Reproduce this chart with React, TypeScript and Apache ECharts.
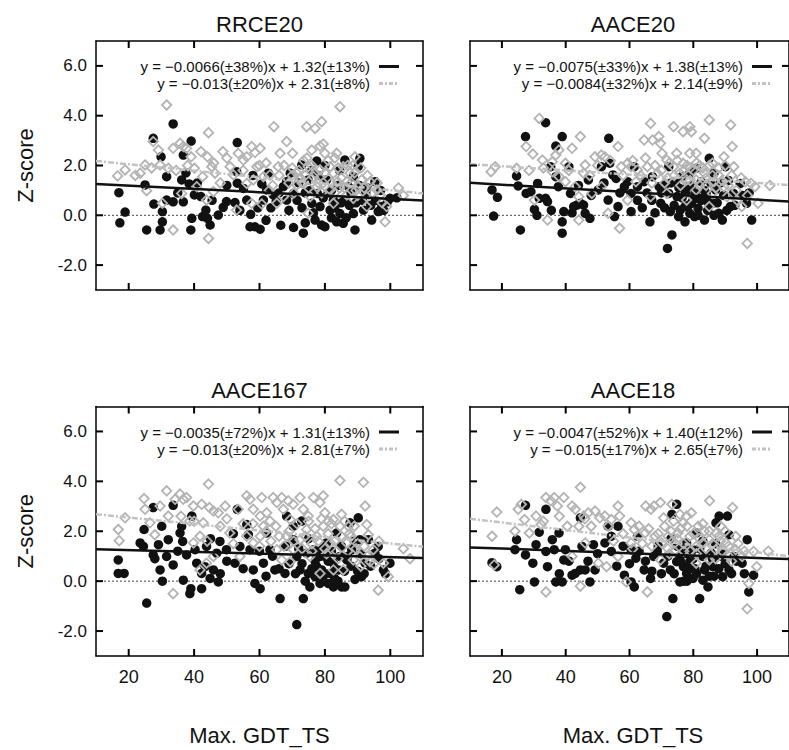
import React, { useEffect, useRef } from "react";
import * as echarts from "echarts";

const FONT = "'Liberation Sans', Arial, Helvetica, sans-serif";

const panelTitles = ["RRCE20", "AACE20", "AACE167", "AACE18"];
const xTicks = [20, 40, 60, 80, 100];
const yTicks = [-2, 0, 2, 4, 6];
const xAxisTitle = "Max. GDT_TS";
const yAxisTitle = "Z-score";

// fit lines: [black, gray]
const fitSlopes = [[-0.0066, -0.013], [-0.0075, -0.0084], [-0.0035, -0.013], [-0.0047, -0.015]];
const fitIntercepts = [[1.32, 2.31], [1.38, 2.14], [1.31, 2.81], [1.40, 2.65]];
const fitLabels = [
  ["y = −0.0066(±38%)x + 1.32(±13%)", "y = −0.013(±20%)x + 2.31(±8%)"],
  ["y = −0.0075(±33%)x + 1.38(±13%)", "y = −0.0084(±32%)x + 2.14(±9%)"],
  ["y = −0.0035(±72%)x + 1.31(±13%)", "y = −0.013(±20%)x + 2.81(±7%)"],
  ["y = −0.0047(±52%)x + 1.40(±12%)", "y = −0.015(±17%)x + 2.65(±7%)"],
];

const rrce20Black = [
  [17.0, 0.91], [17.3, -0.3], [18.9, 0.13], [25.5, -0.59], [27.5, 3.09], [29.9, 2.35], [29.6, -0.59], [30.3, -0.26],
  [30.3, 0.15], [27.7, 0.45], [25.0, 1.22], [31.6, 0.61], [31.6, 1.55], [33.6, 0.54], [33.6, 3.67], [36.2, 1.42],
  [36.7, 0.54], [36.7, 2.42], [39.1, 2.98], [38.5, 1.26], [39.0, -0.59], [39.3, -0.12], [40.1, 0.82], [42.1, 0.75],
  [42.6, -0.05], [43.6, 0.21], [44.1, -0.12], [44.9, -0.39], [47.4, 0.01], [48.9, 0.32], [49.9, 0.55], [53.2, 2.92],
  [53.0, 1.75], [52.5, 0.51], [53.2, 1.29], [55.1, 1.08], [56.1, 0.61], [57.1, -0.46], [58.6, -0.46], [60.2, -0.56],
  [57.3, 0.04], [61.2, 0.61], [60.7, 1.26], [62.2, 1.02], [62.7, 1.69], [64.2, 0.82], [67.3, 1.15], [68.3, 0.61],
  [70.4, -0.49], [72.9, 2.02], [73.4, -0.72], [74.9, 1.42], [76.0, 0.48], [77.0, -0.19], [77.5, 2.18], [77.7, 0.88],
  [79.0, -0.39], [80.0, -0.46], [80.5, 1.42], [81.6, 0.21], [82.6, 0.61], [83.6, -0.26], [84.6, 0.07], [85.6, -0.32],
  [86.1, 2.22], [87.2, 1.15], [88.7, 1.55], [89.2, -0.59], [90.2, 1.96], [90.7, 2.29], [91.8, 0.21], [94.3, -0.19],
  [95.3, 1.35], [96.3, 0.15], [97.4, 0.35], [99.9, 0.68], [99.1, 0.54], [88.7, 0.07], [78.5, 0.35], [69.4, 1.69],
  [65.1, 0.55], [68.3, 1.35], [70.4, 0.88], [102.0, 0.7], [74.0, 0.9], [82.0, 1.0], [86.0, 0.6], [92.5, 0.9],
  [63.5, 0.3], [66.0, 0.9], [69.0, 0.2], [71.5, 0.6], [72.0, 1.3], [73.0, 0.3], [75.5, 1.0], [76.5, 0.1],
  [78.0, 1.6], [79.5, 0.7], [81.0, 0.9], [82.0, -0.1], [83.0, 0.3], [84.0, 1.2], [85.0, 0.5], [86.5, -0.1],
  [87.5, 0.4], [88.0, 0.9], [89.5, 0.5], [90.5, 1.2], [91.5, 0.6], [93.0, 1.1], [94.0, 0.4], [95.5, 0.6],
  [97.0, 1.0], [98.0, 0.2], [35.0, 0.9], [37.5, 1.7], [41.0, 1.3], [45.5, 0.6], [50.0, 1.2], [54.0, 0.2],
  [58.0, 1.6], [59.5, 0.3], [62.0, -0.2], [66.5, -0.4], [74.0, -0.3], [80.0, 2.0], [84.5, 1.8], [76.0, 1.8],
];

const rrce20Gray = [
  [16.6, 1.58], [18.9, 1.82], [23.5, 1.69], [25.0, 2.02], [27.5, 2.96], [25.5, 0.99], [29.1, 2.62], [29.6, 2.02],
  [31.6, 4.43], [30.3, 0.48], [32.1, 1.89], [33.6, -0.59], [33.6, 2.69], [35.7, 2.89], [36.7, 2.76], [37.7, 2.69],
  [36.2, 0.88], [39.1, 2.35], [40.1, 1.89], [42.1, 2.56], [42.6, 1.55], [44.4, 3.32], [44.1, 2.35], [44.4, -0.93],
  [45.4, 1.95], [46.4, 1.69], [48.8, 2.56], [51.0, 1.95], [52.0, 1.62], [53.5, 2.49], [55.1, 2.22], [56.1, 2.35],
  [57.6, 2.76], [58.6, 2.52], [60.2, 2.69], [59.2, 1.95], [60.7, 0.45], [63.2, 1.62], [64.4, 3.56], [65.7, 1.95],
  [66.3, 2.49], [68.3, 2.96], [70.1, 2.49], [71.4, 1.69], [74.4, 3.56], [74.9, 1.95], [76.0, 2.62], [77.0, 3.49],
  [78.5, 2.78], [79.0, 3.76], [79.5, 2.86], [80.0, 2.49], [81.6, 1.95], [84.6, 4.36], [83.6, 2.49], [85.6, 1.95],
  [86.7, 1.35], [87.7, 1.69], [89.2, 2.35], [90.2, 1.15], [91.2, 1.42], [92.8, 0.75], [93.8, 1.35], [95.9, 1.02],
  [98.4, -0.26], [98.9, 0.35], [86.7, 0.82], [81.6, 1.02], [77.5, 1.15], [71.4, 1.22], [67.3, 0.75], [65.3, 0.48],
  [61.2, 1.55], [58.1, 1.42], [56.1, 1.28], [57.6, 0.48], [53.0, 0.21], [45.9, 0.95], [43.8, 0.61], [40.8, 1.15],
  [82.6, 1.69], [78.5, 1.82], [76.5, 1.55], [83.9, 1.35], [88.7, 0.68], [96.9, 0.82], [75.5, 0.75], [82.6, 0.48],
  [92.8, 0.35], [74.9, 0.08], [72.5, 1.5], [79.5, 1.3], [84.5, 1.1], [89.5, 1.0], [70.0, 1.9], [73.5, 2.2],
  [102.5, 1.1], [104.0, 0.8], [62.0, 2.1], [64.0, 1.2], [66.0, 1.6], [67.5, 2.0], [69.0, 1.3], [70.5, 0.9],
  [72.0, 1.8], [73.0, 1.3], [74.0, 1.6], [75.0, 1.1], [76.0, 2.0], [77.0, 1.7], [78.0, 1.3], [79.0, 0.9],
  [80.0, 1.7], [81.0, 2.2], [82.0, 1.3], [83.0, 0.9], [84.0, 1.9], [85.0, 1.5], [86.0, 1.1], [87.0, 2.0],
  [88.0, 1.3], [89.0, 1.7], [90.0, 0.8], [91.0, 1.9], [92.0, 1.1], [93.0, 1.6], [94.5, 0.9], [96.0, 1.3],
  [97.5, 0.5], [50.0, 2.3], [48.0, 1.3], [46.0, 2.1], [38.0, 2.0], [34.5, 1.8], [27.0, 1.9], [22.0, 1.6],
  [55.0, 1.8], [60.0, 2.0], [63.0, 1.0], [70.0, 1.6], [74.5, 2.3], [83.0, 2.3], [88.5, 2.0],
];

const aace20Black = [
  [16.9, 1.02], [18.6, 0.72], [17.4, -0.03], [24.6, 1.58], [25.1, 1.18], [25.8, -0.59], [27.4, 3.16], [27.6, 0.88],
  [29.1, 0.95], [30.2, 0.24], [31.2, 1.28], [31.7, 0.68], [33.7, 3.72], [33.7, 0.68], [34.3, 0.55], [35.3, 1.95],
  [36.9, 2.78], [36.9, 1.55], [37.7, 1.15], [38.9, 3.16], [38.9, -0.26], [38.9, -0.72], [39.4, 0.15], [41.0, 1.95],
  [41.5, 0.88], [42.5, 0.35], [43.5, 0.41], [44.6, 0.48], [45.6, 0.41], [46.1, 0.08], [47.6, -0.12], [47.1, 1.42],
  [50.2, 1.02], [51.2, 1.95], [53.3, 0.61], [53.5, 3.09], [53.8, 2.09], [54.8, 1.62], [55.8, 1.48], [56.4, 0.35],
  [58.4, 1.15], [59.4, 1.35], [60.5, 0.15], [61.5, 1.95], [62.5, 1.15], [64.6, 1.35], [66.4, -0.26], [67.2, 1.55],
  [69.3, 1.15], [69.8, 0.48], [71.1, 1.22], [72.3, 1.95], [72.8, 0.15], [73.3, -0.79], [71.9, -1.33], [74.9, 0.75],
  [75.9, 0.21], [76.4, 1.55], [77.4, 0.35], [78.2, 1.15], [78.9, 0.08], [79.9, 0.61], [80.4, -0.05], [81.5, 0.28],
  [82.5, 1.35], [83.5, -0.19], [84.5, 0.55], [85.0, 2.29], [86.0, 0.48], [87.0, 1.02], [88.0, 0.08], [89.1, -0.19],
  [90.1, 1.95], [91.6, 0.35], [92.6, 0.88], [94.7, 1.28], [96.7, 0.48], [98.3, -0.19], [75.4, -0.05], [77.4, -0.26],
  [79.4, 0.48], [81.9, 0.68], [84.0, 0.88], [72.3, 0.88], [74.4, 1.35], [78.9, 1.69], [80.9, 1.89], [86.5, 1.69],
  [60.5, 0.88], [55.3, -0.05], [62.5, 0.6], [64.0, 0.3], [65.5, 0.9], [67.0, 0.6], [68.0, 0.1], [70.0, 0.9],
  [71.0, 0.3], [73.0, 1.3], [74.0, 0.4], [75.5, 1.1], [76.5, 0.7], [77.5, 0.9], [78.5, 0.4], [79.5, 1.2],
  [80.5, 0.9], [81.5, 0.0], [82.5, 0.6], [83.5, 1.0], [84.5, 0.2], [85.5, 1.3], [86.5, 0.0], [87.5, 0.5],
  [88.5, 1.3], [89.5, 0.8], [90.5, 0.2], [91.0, 1.4], [93.0, 0.4], [95.5, 0.8], [97.5, 0.9], [44.0, 1.2],
  [48.0, 0.8], [52.0, 1.3], [57.0, 0.9], [42.0, 0.1], [35.5, 0.2], [31.0, 0.0],
];

const aace20Gray = [
  [16.6, 1.75], [17.9, 1.95], [24.6, 1.89], [27.6, 2.76], [29.7, 2.46], [30.2, 0.61], [31.7, 3.89], [32.7, 2.22],
  [34.3, -0.19], [35.8, 2.15], [36.9, 2.42], [37.9, 2.62], [39.9, 2.09], [39.9, 1.35], [42.0, 2.69], [44.1, -0.19],
  [44.6, 3.16], [45.6, 1.69], [46.1, 2.02], [49.2, 2.35], [51.2, 2.42], [52.3, 2.35], [53.3, 0.08], [56.4, 2.76],
  [57.4, 1.95], [56.9, -0.52], [59.4, 2.09], [60.5, 1.95], [62.0, 1.35], [64.6, 3.02], [66.6, 3.69], [67.2, 3.02],
  [69.2, 3.16], [69.7, 2.89], [70.2, 2.49], [71.7, 2.22], [73.8, 3.56], [74.8, 2.49], [76.8, 3.36], [78.9, 3.56],
  [79.4, 3.36], [78.9, 2.49], [80.9, 2.49], [83.5, 3.09], [85.0, 3.83], [86.0, 2.09], [89.6, 2.35], [91.7, 3.63],
  [92.2, 2.76], [92.7, 1.95], [96.3, 1.35], [96.9, -1.13], [98.1, 1.28], [100.3, 0.48], [73.8, 1.95], [75.8, 1.69],
  [77.9, 1.42], [80.9, 1.42], [83.5, 1.69], [86.5, 1.35], [89.6, 1.15], [90.6, 0.75], [93.7, 0.61], [95.2, 0.35],
  [68.7, 1.69], [66.6, 0.75], [65.6, 1.95], [62.5, 1.82], [59.4, 0.61], [51.2, 1.15], [48.2, 0.88], [43.0, 1.15],
  [44.1, 0.75], [37.9, 1.55], [35.8, 1.75], [80.9, 1.02], [86.0, 0.88], [77.9, 0.61], [71.7, 0.88], [99.3, 1.15],
  [85.0, 0.35], [76.8, 2.09], [82.0, 2.0], [84.0, 1.2], [88.0, 1.6], [72.0, 1.5], [79.0, 1.9], [104.0, 1.2],
  [61.0, 2.2], [63.5, 1.6], [65.0, 2.3], [67.0, 1.3], [68.0, 2.0], [70.0, 1.8], [71.0, 1.3], [72.5, 2.1],
  [74.0, 1.6], [75.0, 2.2], [76.0, 1.2], [77.0, 1.8], [78.0, 2.0], [79.0, 1.4], [80.0, 1.8], [81.0, 2.1],
  [82.0, 1.2], [83.0, 1.9], [84.0, 1.5], [85.0, 2.0], [86.0, 1.6], [87.0, 1.1], [88.0, 1.9], [89.0, 1.4],
  [90.0, 2.0], [91.0, 1.2], [92.0, 1.6], [93.5, 1.0], [95.0, 1.5], [97.0, 0.8], [50.0, 2.0], [47.5, 1.6],
  [54.0, 2.2], [58.0, 1.6], [41.0, 1.8], [33.0, 1.9], [28.5, 1.8],
];

const aace167Black = [
  [16.8, 0.85], [16.8, 0.31], [18.6, 0.31], [25.5, -0.88], [23.5, 1.53], [24.5, 1.39], [24.7, 2.07], [27.5, 2.95],
  [27.5, 1.05], [29.1, 1.46], [29.6, 0.45], [30.1, 2.2], [30.3, 0.0], [31.6, 0.99], [32.1, 1.66], [33.6, 3.04],
  [33.6, 0.65], [35.7, 1.93], [36.2, 2.2], [36.5, 1.59], [36.7, 0.04], [37.7, 1.05], [38.7, -0.5], [39.0, -0.3],
  [39.3, 2.61], [40.3, 1.26], [40.8, 0.72], [42.3, 0.31], [42.3, -0.3], [43.3, 0.58], [43.8, 1.39], [44.9, 0.11],
  [45.9, 0.45], [46.9, 1.12], [47.4, -0.03], [47.9, 1.59], [49.9, 1.26], [52.5, 0.72], [53.2, 2.88], [54.0, 1.39],
  [56.1, 2.27], [56.6, 1.86], [57.1, 1.26], [58.1, 0.45], [58.6, -0.09], [60.2, -0.3], [61.2, 0.72], [62.2, 1.93],
  [63.2, 1.26], [64.7, 0.45], [66.3, -0.7], [68.3, 2.61], [67.8, 0.31], [70.3, 2.2], [71.4, -1.74], [71.4, 0.99],
  [72.9, 2.41], [73.4, -0.7], [74.4, 1.12], [75.4, -0.23], [77.0, 0.18], [77.5, 0.58], [78.5, -0.09], [79.0, 0.45],
  [80.0, 0.99], [81.0, -0.09], [81.6, 0.31], [82.6, -0.23], [83.6, 1.93], [84.1, 0.45], [85.1, -0.23], [86.1, -0.23],
  [86.7, 0.85], [87.7, 2.34], [88.2, 1.26], [89.2, 0.07], [90.2, 2.54], [90.7, 1.66], [92.3, 0.72], [93.3, 1.66],
  [95.3, 1.12], [96.3, 1.39], [97.9, 0.45], [99.9, 0.72], [80.5, 1.53], [76.5, 1.26], [78.5, 0.99], [82.6, 0.72],
  [84.6, 0.99], [72.4, 0.45], [74.9, 0.31], [70.3, 1.66], [91.2, 0.18], [79.5, 0.2], [83.0, 0.1], [77.0, 0.8],
  [60.0, 1.2], [62.0, 0.2], [64.0, 1.0], [66.0, 0.5], [68.0, 1.4], [69.0, 0.7], [71.0, 0.3], [72.0, 1.3],
  [73.0, 0.7], [74.0, 0.0], [75.0, 1.7], [76.0, 0.5], [77.5, 1.0], [78.0, 0.2], [79.0, 1.3], [80.0, 0.3],
  [81.0, 0.8], [82.0, 1.2], [83.0, 0.5], [84.0, 0.0], [85.0, 1.4], [86.0, 0.4], [87.0, 1.0], [88.0, 0.6],
  [89.0, 1.6], [90.0, 0.4], [91.0, 1.1], [92.0, 0.3], [94.0, 0.6], [96.5, 0.9], [98.5, 0.3], [45.0, 1.7],
  [50.0, 0.8], [55.0, 0.5], [52.0, 1.9], [48.0, 0.3], [35.0, 1.2], [28.0, 0.9],
];

const aace167Gray = [
  [16.8, 2.07], [17.1, 1.62], [18.9, 2.54], [24.7, 3.31], [25.0, 2.88], [26.5, 2.34], [28.0, 1.86], [29.6, 3.01],
  [31.6, 3.62], [32.1, 2.61], [33.6, -0.5], [34.2, 3.28], [35.7, 3.49], [36.7, 3.28], [37.7, 3.35], [38.7, 2.41],
  [39.8, 3.01], [41.8, 1.8], [42.3, 3.08], [42.8, 2.34], [44.4, 3.89], [44.7, 2.95], [45.9, 2.81], [47.4, 2.74],
  [49.5, 3.01], [50.9, 1.93], [53.5, 2.88], [56.1, 3.42], [57.1, 3.28], [58.1, 2.88], [60.2, 2.61], [60.7, 3.35],
  [62.2, 2.74], [63.2, 2.41], [64.2, 3.35], [65.3, 3.15], [66.8, 3.35], [67.3, 2.88], [68.8, 3.22], [69.4, 2.47],
  [70.3, 3.08], [72.4, 3.35], [73.4, 2.88], [74.9, 2.61], [76.5, 3.35], [78.5, 3.15], [79.5, 3.42], [80.0, 2.74],
  [81.0, 2.41], [82.6, 2.47], [84.6, 4.03], [85.1, 2.68], [87.2, 2.2], [91.8, 3.96], [92.3, 3.01], [92.8, 2.27],
  [93.3, 1.86], [96.3, -0.36], [97.9, 0.72], [99.4, 0.18], [41.8, 0.45], [43.8, 0.72], [45.9, 0.99], [39.8, 1.53],
  [54.0, 0.99], [56.1, 1.8], [58.1, 1.53], [60.2, 1.8], [65.3, 1.26], [66.8, 0.85], [68.3, 1.8], [70.3, 1.26],
  [72.4, 1.66], [74.4, 2.07], [77.5, 1.8], [79.5, 2.2], [81.6, 1.53], [83.6, 1.19], [84.6, 2.2], [86.7, 1.53],
  [88.7, 0.85], [90.7, 0.99], [94.8, 1.26], [82.6, 0.45], [78.5, 0.31], [85.6, 0.45], [93.8, 0.78], [75.4, 0.99],
  [69.4, 0.78], [61.2, 2.2], [76.0, 1.5], [80.5, 1.1], [87.5, 1.9], [89.5, 1.3], [104.0, 1.3], [106.0, 0.9],
  [58.0, 2.3], [60.0, 1.4], [62.0, 2.0], [63.5, 1.6], [65.0, 2.2], [66.0, 1.8], [67.5, 1.4], [69.0, 2.0],
  [70.5, 1.6], [71.5, 2.3], [73.0, 1.3], [74.0, 1.8], [75.0, 2.4], [76.0, 1.2], [77.0, 2.1], [78.0, 1.6],
  [79.0, 2.5], [80.0, 1.3], [81.0, 1.9], [82.0, 2.3], [83.0, 1.6], [84.0, 0.9], [85.0, 1.8], [86.0, 2.4],
  [87.0, 1.2], [88.0, 1.8], [89.0, 2.2], [90.0, 1.5], [91.0, 0.6], [92.0, 1.4], [93.0, 1.0], [95.0, 0.7],
  [96.5, 1.6], [50.0, 2.5], [48.0, 2.2], [44.0, 1.6], [40.0, 2.4], [36.0, 2.6], [52.0, 1.5], [55.0, 2.3],
];

const aace18Black = [
  [16.9, 0.74], [18.4, 0.58], [24.6, 1.66], [24.1, 1.26], [25.6, -0.34], [27.4, 1.05], [27.4, 3.04], [29.7, 0.72],
  [30.2, -0.03], [30.7, 1.46], [31.7, 1.96], [33.8, 2.88], [33.8, 1.19], [34.3, 0.58], [35.8, 1.66], [36.4, 1.26],
  [36.9, -0.03], [37.9, 1.93], [38.9, -0.03], [39.4, 0.85], [39.9, 1.26], [42.0, 0.24], [43.0, 0.31], [44.6, 2.54],
  [44.6, 0.45], [45.1, 1.39], [46.1, 0.45], [47.6, -0.03], [48.7, 1.46], [49.2, 0.45], [52.3, 1.53], [53.3, 2.2],
  [54.3, 1.19], [56.4, 2.2], [58.4, 0.24], [60.5, -0.03], [61.5, -0.23], [62.0, 0.92], [62.5, 1.8], [64.6, 0.45],
  [66.6, 0.11], [68.7, 1.19], [70.7, 0.72], [71.7, -1.42], [73.3, 2.68], [73.6, -0.7], [74.8, 3.08], [74.8, 0.78],
  [75.8, -0.03], [76.9, 0.58], [77.9, 0.31], [78.9, 0.78], [79.9, 0.11], [81.0, 1.93], [82.0, -0.7], [83.0, 0.04],
  [83.5, 0.45], [84.6, -0.23], [85.6, 1.12], [87.1, 2.34], [88.1, 2.61], [89.2, 0.18], [90.7, 2.61], [91.2, 1.86],
  [91.2, 0.45], [92.8, 0.99], [95.3, 0.72], [96.9, 1.66], [97.4, -0.43], [98.9, 0.24], [76.9, 1.26], [79.9, 1.26],
  [83.0, 0.99], [86.1, 0.58], [77.9, 1.53], [67.6, 0.99], [75.8, 0.99], [54.3, 1.8], [60.5, 1.26], [72.8, 0.45],
  [80.5, 0.5], [86.5, 0.2], [88.5, 1.0], [78.0, 0.0], [60.0, 0.7], [63.0, 1.2], [65.0, 0.8], [67.0, 0.4],
  [69.0, 1.4], [70.0, 0.3], [72.0, 1.0], [73.0, 1.7], [74.0, 0.3], [75.0, 1.4], [76.0, 0.8], [77.0, 0.0],
  [78.0, 1.1], [79.0, 0.5], [80.0, 0.9], [81.0, 0.3], [82.0, 1.3], [83.0, 1.6], [84.0, 0.6], [85.0, 0.2],
  [86.0, 0.9], [87.0, 1.5], [88.0, 0.5], [89.0, 1.2], [90.0, 0.7], [92.0, 0.3], [93.5, 0.8], [96.0, 0.3],
  [50.0, 1.1], [47.0, 0.8], [41.0, 0.8], [38.0, 0.3], [56.0, 0.6], [58.0, 1.4],
];

const aace18Gray = [
  [16.9, 1.8], [18.4, 2.77], [17.6, 0.65], [24.1, 2.0], [25.1, 2.88], [26.1, 3.08], [27.1, 2.47], [28.6, 1.93],
  [30.7, 2.61], [32.3, 2.27], [33.8, -0.43], [33.8, 3.35], [35.3, 3.22], [36.4, 3.35], [37.4, 3.01], [39.4, 3.35],
  [40.5, 2.2], [42.0, 3.01], [43.0, 2.88], [44.6, 3.76], [44.6, -0.2], [45.6, 2.61], [47.1, 2.74], [49.2, 2.81],
  [50.7, 2.54], [52.3, 2.61], [53.3, 2.2], [54.3, 2.47], [56.4, 3.01], [56.9, 2.61], [59.0, -0.03], [60.5, 2.34],
  [61.5, 2.07], [65.1, 3.01], [66.7, 2.88], [67.7, 3.01], [69.7, 3.15], [70.7, 2.54], [73.3, 3.08], [73.8, 2.41],
  [75.8, 2.68], [76.8, 2.34], [77.9, 2.61], [79.4, 2.74], [81.5, 2.2], [85.1, 3.22], [87.1, 1.93], [88.6, 2.2],
  [92.3, 2.95], [93.3, 1.8], [96.9, -1.11], [97.4, -0.09], [99.9, 0.58], [98.9, 1.19], [65.6, -0.43], [44.1, 2.2],
  [46.1, 1.53], [42.0, 0.99], [50.2, 0.72], [52.8, 0.58], [56.4, 0.99], [60.5, 1.53], [62.9, 1.8], [64.9, 1.93],
  [68.0, 1.8], [70.1, 1.53], [72.1, 1.8], [74.2, 1.53], [75.2, 1.93], [78.9, 1.8], [80.9, 1.39], [82.9, 1.53],
  [85.0, 1.66], [87.1, 1.26], [90.2, 1.53], [93.3, 1.26], [95.3, 0.99], [69.7, 0.85], [80.9, 0.72], [91.2, 0.99],
  [85.0, 0.85], [77.0, 1.2], [83.5, 2.0], [88.5, 1.6], [72.5, 1.1], [103.5, 1.2], [58.0, 1.9], [61.0, 1.3],
  [63.0, 2.2], [64.0, 1.5], [66.0, 2.1], [67.0, 1.4], [69.0, 1.9], [71.0, 2.2], [72.0, 1.3], [73.0, 2.0],
  [74.0, 1.2], [75.0, 1.7], [76.0, 2.1], [77.0, 1.5], [78.0, 2.2], [79.0, 1.2], [80.0, 1.9], [81.0, 1.1],
  [82.0, 1.7], [83.0, 2.3], [84.0, 1.3], [85.0, 2.0], [86.0, 1.5], [87.0, 0.9], [88.0, 1.8], [89.0, 1.2],
  [90.0, 2.0], [91.0, 1.4], [92.0, 0.8], [94.0, 1.5], [96.0, 1.2], [48.0, 2.2], [46.0, 2.5], [38.0, 2.6],
  [33.0, 2.4], [55.0, 1.6],
];

const blackSets = [rrce20Black, aace20Black, aace167Black, aace18Black];
const graySets = [rrce20Gray, aace20Gray, aace167Gray, aace18Gray];

const X_MIN = 10;
const X_MAX = 110;
const Y_MIN = -3;
const Y_MAX = 7;
const TICK_PX = 7;

const grids = [
  { left: 96, top: 41, width: 327, height: 249 },
  { left: 470, top: 41, width: 326, height: 249 },
  { left: 96, top: 406.5, width: 327, height: 249.5 },
  { left: 470, top: 406.5, width: 326, height: 249.5 },
];

function buildOption() {
  const lineStyle = { color: "#000", width: 1.5 };
  const xAxes: any[] = [];
  const yAxes: any[] = [];
  const series: any[] = [];
  const graphic: any[] = [];

  grids.forEach((g, i) => {
    const bottomRow = i >= 2;
    const leftCol = i % 2 === 0;
    ["bottom", "top"].forEach((pos) => {
      xAxes.push({
        type: "value",
        gridIndex: i,
        position: pos,
        min: X_MIN,
        max: X_MAX,
        axisLine: { show: true, onZero: false, lineStyle },
        splitLine: { show: false },
        axisTick: { show: false },
        axisLabel: {
          show: pos === "bottom" && bottomRow,
          customValues: xTicks,
          fontSize: 18,
          fontFamily: FONT,
          color: "#111",
          margin: 12,
        },
      });
    });
    ["left", "right"].forEach((pos) => {
      yAxes.push({
        type: "value",
        gridIndex: i,
        position: pos,
        min: Y_MIN,
        max: Y_MAX,
        axisLine: { show: true, onZero: false, lineStyle },
        splitLine: { show: false },
        axisTick: { show: false },
        axisLabel: {
          show: pos === "left" && leftCol,
          customValues: yTicks,
          formatter: (v: number) => v.toFixed(1),
          fontSize: 17,
          fontFamily: FONT,
          color: "#111",
          margin: 9,
        },
      });
    });

    const xi = i * 2;
    const yi = i * 2;

    series.push({
      type: "line",
      xAxisIndex: xi,
      yAxisIndex: yi,
      data: [[X_MIN, 0], [X_MAX, 0]],
      symbol: "none",
      silent: true,
      lineStyle: { color: "#444", width: 1, type: [2, 2] },
      z: 1,
    });
    series.push({
      type: "scatter",
      xAxisIndex: xi,
      yAxisIndex: yi,
      data: blackSets[i],
      symbol: "circle",
      symbolSize: 9.5,
      itemStyle: { color: "#111", opacity: 1 },
      silent: true,
      z: 2,
    });
    series.push({
      type: "scatter",
      xAxisIndex: xi,
      yAxisIndex: yi,
      data: graySets[i],
      symbol: "diamond",
      symbolSize: 9.5,
      itemStyle: { color: "rgba(255,255,255,0)", borderColor: "#b3b3b3", borderWidth: 1.8, opacity: 1 },
      silent: true,
      z: 3,
    });
    const [sb, sg] = fitSlopes[i];
    const [ib, ig] = fitIntercepts[i];
    series.push({
      type: "line",
      xAxisIndex: xi,
      yAxisIndex: yi,
      data: [[X_MIN, sg * X_MIN + ig], [X_MAX, sg * X_MAX + ig]],
      symbol: "none",
      silent: true,
      lineStyle: { color: "#c2c2c2", width: 2.5, type: [6, 2, 2, 2] },
      z: 4,
    });
    series.push({
      type: "line",
      xAxisIndex: xi,
      yAxisIndex: yi,
      data: [[X_MIN, sb * X_MIN + ib], [X_MAX, sb * X_MAX + ib]],
      symbol: "none",
      silent: true,
      lineStyle: { color: "#111", width: 2.5 },
      z: 5,
    });

    const cx = g.left + g.width / 2;
    const right = g.left + g.width;
    graphic.push({
      type: "text",
      x: cx,
      y: g.top - 16.5,
      style: {
        text: panelTitles[i],
        fontSize: 22,
        fontFamily: FONT,
        fill: "#111",
        align: "center",
        verticalAlign: "middle",
        textAlign: "center",
        textVerticalAlign: "middle",
      },
    });
    const rows = [g.top + 25.5, g.top + 42.5];
    rows.forEach((ry, k) => {
      graphic.push({
        type: "text",
        x: right - 53,
        y: ry,
        style: {
          text: fitLabels[i][k],
          fontSize: 15,
          fontFamily: FONT,
          fill: "#111",
          align: "right",
          verticalAlign: "middle",
          textAlign: "right",
          textVerticalAlign: "middle",
        },
      });
      graphic.push({
        type: "line",
        shape: { x1: right - 44, y1: ry, x2: right - 24, y2: ry },
        style: k === 0
          ? { stroke: "#111", lineWidth: 3 }
          : { stroke: "#c2c2c2", lineWidth: 3, lineDash: [4, 2, 2, 2] },
      });
    });
    if (leftCol) {
      graphic.push({
        type: "text",
        x: 25,
        y: g.top + g.height / 2,
        rotation: Math.PI / 2,
        style: {
          text: yAxisTitle,
          fontSize: 22,
          fontFamily: FONT,
          fill: "#111",
          align: "center",
          verticalAlign: "middle",
          textAlign: "center",
          textVerticalAlign: "middle",
        },
      });
    }
    if (bottomRow) {
      graphic.push({
        type: "text",
        x: cx,
        y: 735,
        style: {
          text: xAxisTitle,
          fontSize: 22,
          fontFamily: FONT,
          fill: "#111",
          align: "center",
          verticalAlign: "middle",
          textAlign: "center",
          textVerticalAlign: "middle",
        },
      });
    }
  });

  return {
    animation: false,
    backgroundColor: "#fff",
    textStyle: { fontFamily: FONT },
    grid: grids.map((g) => ({
      ...g,
      show: false,
      containLabel: false,
    })),
    xAxis: xAxes,
    yAxis: yAxes,
    series,
    graphic,
  };
}

// inward tick marks on all four sides, placed through the chart's own scales
function buildTickGraphics(chart: any) {
  const out: any[] = [];
  const stroke = { stroke: "#000", lineWidth: 2 };
  grids.forEach((_g, i) => {
    const finder = { xAxisIndex: i * 2, yAxisIndex: i * 2 };
    xTicks.forEach((v) => {
      const b = chart.convertToPixel(finder, [v, Y_MIN]);
      const t = chart.convertToPixel(finder, [v, Y_MAX]);
      if (!b || !t) return;
      out.push({ type: "line", silent: true, z: 100, shape: { x1: b[0], y1: b[1], x2: b[0], y2: b[1] - TICK_PX }, style: stroke });
      out.push({ type: "line", silent: true, z: 100, shape: { x1: t[0], y1: t[1], x2: t[0], y2: t[1] + TICK_PX }, style: stroke });
    });
    yTicks.forEach((v) => {
      const l = chart.convertToPixel(finder, [X_MIN, v]);
      const r = chart.convertToPixel(finder, [X_MAX, v]);
      if (!l || !r) return;
      out.push({ type: "line", silent: true, z: 100, shape: { x1: l[0], y1: l[1], x2: l[0] + TICK_PX, y2: l[1] }, style: stroke });
      out.push({ type: "line", silent: true, z: 100, shape: { x1: r[0], y1: r[1], x2: r[0] - TICK_PX, y2: r[1] }, style: stroke });
    });
  });
  return out;
}

export default function App() {
  const ref = useRef<HTMLDivElement>(null);
  useEffect(() => {
    if (!ref.current) return;
    const chart = echarts.init(ref.current, undefined, { renderer: "svg" });
    const option: any = buildOption();
    chart.setOption(option);
    const ticks = buildTickGraphics(chart);
    chart.setOption({ graphic: [...option.graphic, ...ticks] });
    return () => chart.dispose();
  }, []);
  return (
    <div
      ref={ref}
      style={{ position: "absolute", left: 0, top: 0, width: 789, height: 750, background: "#fff" }}
    />
  );
}
